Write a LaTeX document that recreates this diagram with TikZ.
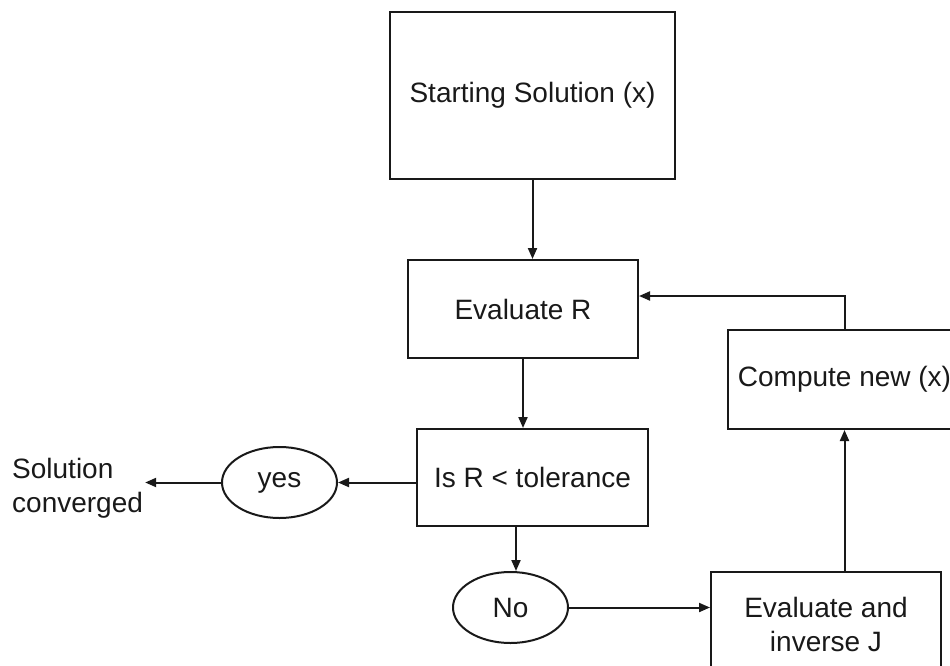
\documentclass[tikz,border=0pt]{standalone}
\usepackage{fontspec}
\setmainfont{Liberation Sans}
\usetikzlibrary{arrows.meta,shapes.geometric,calc}
\begin{document}
\begin{tikzpicture}[x=1pt,y=-1pt,
  every node/.style={font=\fontsize{28}{34}\selectfont, inner sep=0pt, text=black!90},
  box/.style={draw=black!90, line width=2pt, rectangle, align=center},
  oval/.style={draw=black!90, line width=2pt, ellipse, minimum width=115pt, minimum height=71pt},
  arr/.style={draw=black!90, line width=2pt, -{Triangle[length=11pt,width=9pt]}}]
\useasboundingbox (0,0) rectangle (950,666);
\node[box, minimum width=285pt, minimum height=167pt] (st) at (532.5,95.5) {\raisebox{-3pt}{Starting Solution (x)}};
\node[box, minimum width=230pt, minimum height=98pt] (er) at (523,309) {Evaluate R};
\node[box, minimum width=231pt, minimum height=97pt] (ir) at (532.5,477.5) {\raisebox{-2pt}{Is R < tolerance}};
\node[oval] (yes) at (279.5,482.5) {yes};
\node[oval] (no) at (510.5,607.5) {No};
\node[box, minimum width=233pt, minimum height=99pt] (cn) at (844.5,379.5) {Compute new (x)};
\node[box, minimum width=230pt, minimum height=104pt] (ej) at (826,624) {Evaluate and\\inverse J};
\node[align=left, anchor=west] (sol) at (12,488.5) {Solution\\converged};
\draw[arr] (st.south) -- (st.south |- er.north);
\draw[arr] (er.south) -- (er.south |- ir.north);
\draw[arr] (ir.west |- yes.east) -- (yes.east);
\draw[arr] (yes.west) -- ([xshift=2pt]sol.east |- yes.west);
\draw[arr] ([xshift=-16.5pt]ir.south) -- ([xshift=-16.5pt]ir.south |- no.north);
\draw[arr] (no.east) -- (no.east -| ej.west);
\draw[arr] (cn.south |- ej.north) -- (cn.south);
\draw[arr] (cn.north) |- ([yshift=13pt]er.east);
\end{tikzpicture}
\end{document}
